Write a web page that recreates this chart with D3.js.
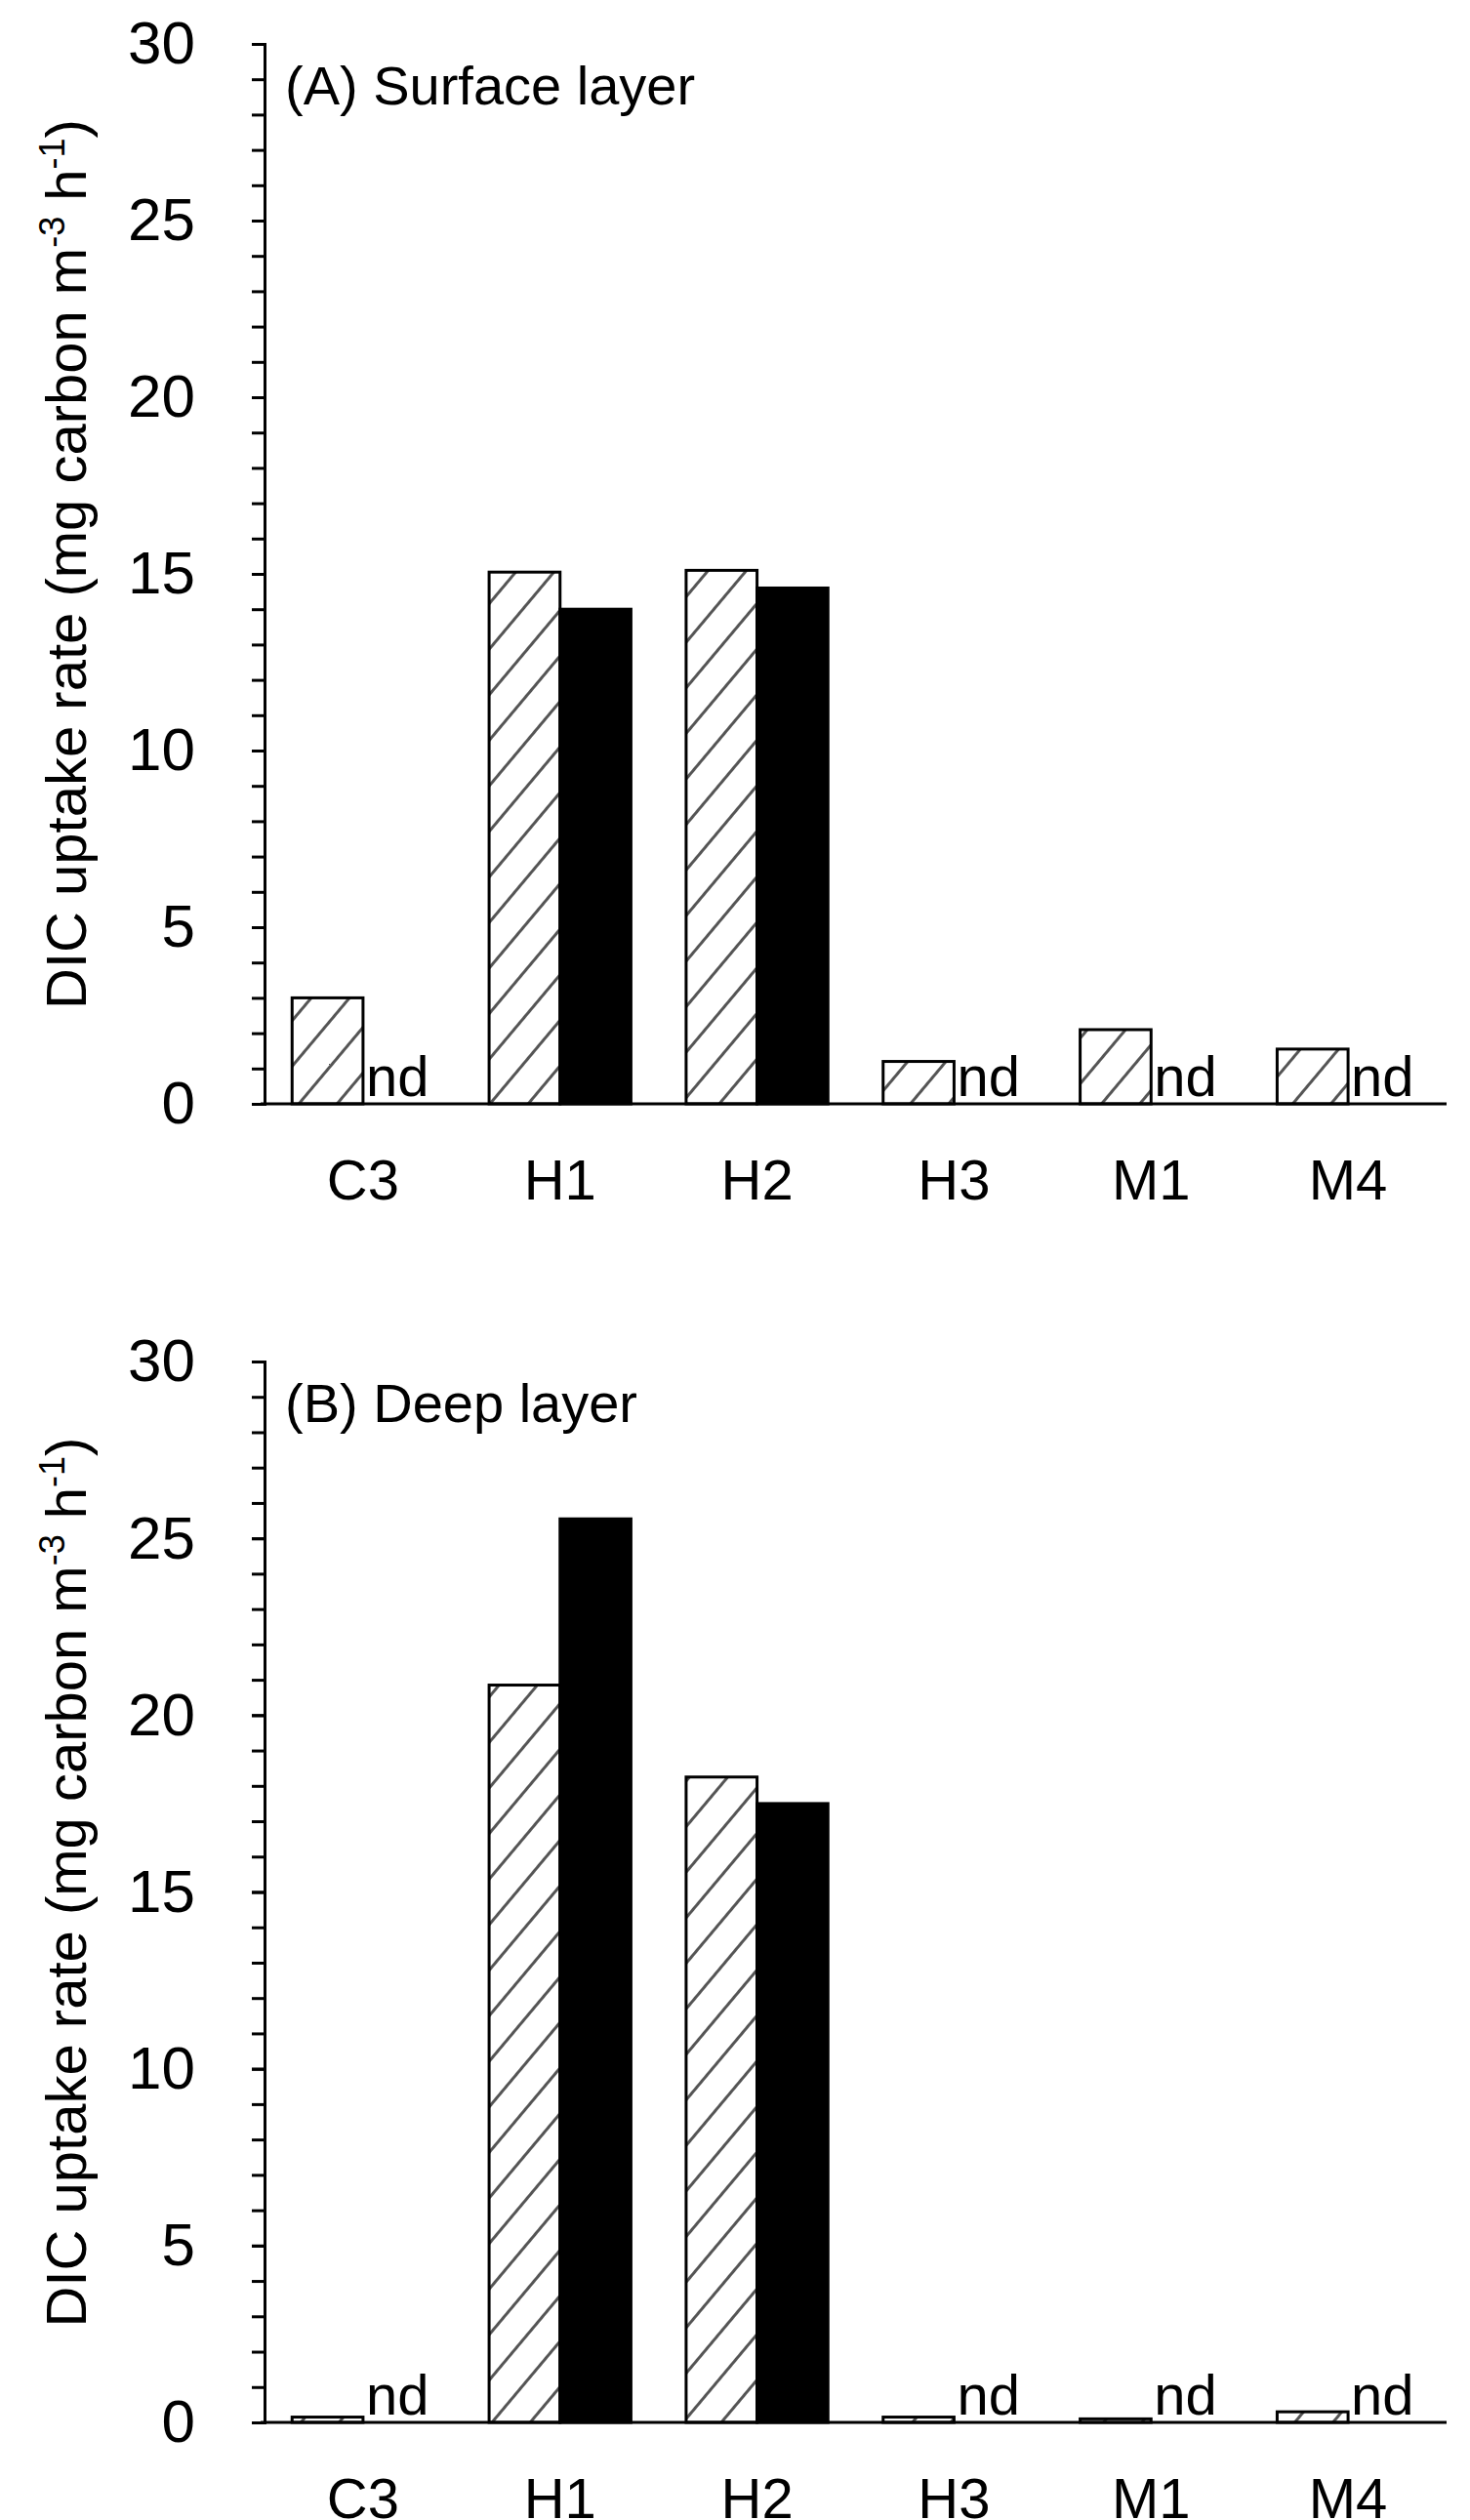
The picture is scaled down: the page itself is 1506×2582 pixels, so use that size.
<!DOCTYPE html>
<html><head><meta charset="utf-8">
<script src="https://cdn.jsdelivr.net/npm/d3@7"></script>
<style>body{margin:0;background:#fff}text{font-family:"Liberation Sans",Arial,sans-serif}</style>
</head><body><svg id="c" width="1506" height="2582"></svg>
<script>
const categories = ["C3","H1","H2","H3","M1","M4"];
const surfaceHatched = [3.0, 15.05, 15.1, 1.2, 2.1, 1.55];
const surfaceBlack   = [null, 14.0, 14.6, null, null, null];
const deepHatched    = [0.15, 20.85, 18.25, 0.15, 0.1, 0.3];
const deepBlack      = [null, 25.55, 17.5, null, null, null];
const yTicks = [0,5,10,15,20,25,30];
const panelTitles = ["(A) Surface layer","(B) Deep layer"];

const svg = d3.select("#c");
const defs = svg.append("defs");
const pat = defs.append("pattern").attr("id","hatch").attr("patternUnits","userSpaceOnUse")
  .attr("width",30).attr("height",30).attr("patternTransform","rotate(40)");
pat.append("rect").attr("width",30).attr("height",30).attr("fill","#fff");
pat.append("line").attr("x1",0).attr("y1",0).attr("x2",0).attr("y2",30).attr("stroke","#555").attr("stroke-width",6);

const left = 271, right = 1482;
const panels = [
  {top:45, bottom:1131, h:surfaceHatched, b:surfaceBlack, title:panelTitles[0]},
  {top:1395, bottom:2482, h:deepHatched, b:deepBlack, title:panelTitles[1]}
];
const x = d3.scaleBand().domain(categories).range([left,right]).paddingInner(0.28).paddingOuter(0.14);
panels.forEach(p=>{
  const g = svg.append("g");
  const y = d3.scaleLinear().domain([0,30]).range([p.bottom,p.top]);
  const bw = x.bandwidth()/2;
  const minor = d3.axisLeft(y).tickValues(d3.range(0,31,1)).tickSize(13).tickFormat("");
  g.append("g").attr("transform",`translate(${left},0)`).call(minor)
    .call(s=>{s.select(".domain").remove();s.selectAll("line").attr("stroke","#000").attr("stroke-width",3);});
  const ax = d3.axisLeft(y).tickValues(yTicks).tickSize(13).tickPadding(58);
  g.append("g").attr("transform",`translate(${left},0)`).call(ax)
    .call(s=>{s.select(".domain").attr("stroke-width",3);s.selectAll("line").attr("stroke-width",3);
      s.selectAll("text").attr("font-size",62).attr("font-family","Liberation Sans, Arial").attr("fill","#000");});
  categories.forEach((c,i)=>{
    const x0 = x(c);
    const vh = p.h[i];
    g.append("rect").attr("x",x0).attr("y",y(vh)).attr("width",bw).attr("height",y(0)-y(vh))
      .attr("fill","url(#hatch)").attr("stroke","#000").attr("stroke-width",3);
    const vb = p.b[i];
    if(vb!=null){
      g.append("rect").attr("x",x0+bw).attr("y",y(vb)).attr("width",bw).attr("height",y(0)-y(vb))
        .attr("fill","#000").attr("stroke","#000").attr("stroke-width",3);
    } else {
      g.append("text").attr("x",x0+bw+3).attr("y",y(0)-8).attr("font-size",58).text("nd");
    }
    g.append("text").attr("x",x0+bw).attr("y",p.bottom+98).attr("text-anchor","middle").attr("font-size",58).text(c);
  });
  g.append("line").attr("x1",left-4).attr("x2",right).attr("y1",y(0)).attr("y2",y(0)).attr("stroke","#000").attr("stroke-width",3);
  g.append("text").attr("x",292).attr("y",p.top+62).attr("font-size",56).text(p.title);
  const yl = g.append("text").attr("transform",`translate(88,${(p.top+p.bottom)/2 - 10}) rotate(-90)`)
    .attr("text-anchor","middle").attr("font-size",58);
  yl.append("tspan").text("DIC uptake rate (mg carbon m");
  yl.append("tspan").attr("font-size",36).attr("dy",-22).text("-3");
  yl.append("tspan").attr("dy",22).text(" h");
  yl.append("tspan").attr("font-size",36).attr("dy",-22).text("-1");
  yl.append("tspan").attr("dy",22).text(")");
});
</script></body></html>
